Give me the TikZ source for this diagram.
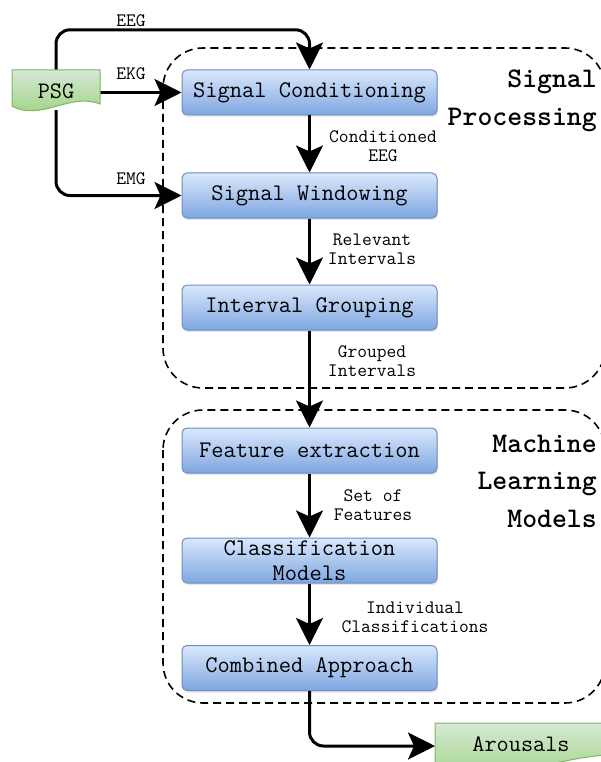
\documentclass[tikz,border=0pt]{standalone}
\usepackage{fontspec}
\usetikzlibrary{arrows.meta,shadows}

\definecolor{boxtop}{HTML}{DAE8FC}
\definecolor{boxbot}{HTML}{7EA6E0}
\definecolor{boxline}{HTML}{6C8EBF}
\definecolor{doctop}{HTML}{D5E8D4}
\definecolor{docbot}{HTML}{97D077}
\definecolor{docline}{HTML}{82B366}

\tikzset{
  proc/.style={rounded corners=5pt, top color=boxtop, bottom color=boxbot,
    draw=boxline, line width=1pt, minimum width=255pt, minimum height=45pt,
    inner sep=0pt, align=center,
    font=\ttfamily\fontsize{23.8}{25}\selectfont,
    drop shadow={opacity=0.2, shadow xshift=1pt, shadow yshift=-2pt}},
  docshape/.style={top color=doctop, bottom color=docbot, draw=docline, line width=1pt},
  doctext/.style={inner sep=0pt, font=\ttfamily\fontsize{23.6}{25}\selectfont},
  lbl/.style={inner sep=0pt, align=center, font=\ttfamily\fontsize{19}{19}\selectfont},
  grptitle/.style={inner sep=0pt, align=right, anchor=east,
    font=\ttfamily\bfseries\fontsize{28.4}{37.5}\selectfont},
  grp/.style={dash pattern=on 8pt off 5pt, line width=1.6pt, rounded corners=40pt},
  flow/.style={line width=3pt,
    -{Stealth[length=27pt, width=27pt, inset=6pt]}},
  elbow/.style={rounded corners=14pt},
}

\begin{document}
\begin{tikzpicture}[x=1pt, y=-1pt]
\useasboundingbox (0,0) rectangle (601,762);
\clip (0,0) rectangle (601,762);

% group frames
\draw[grp] (163,48) rectangle (605,388);
\draw[grp] (163,410) rectangle (605,703);

\node[grptitle] (tsp) at (597,101) {Signal\\Processing};
\node[grptitle] (tml) at (597,481) {Machine\\Learning\\Models};

% processing steps
\node[proc] (sc) at (309.5,92.5) {Signal Conditioning};
\node[proc] (sw) at (309.5,195.5) {Signal Windowing};
\node[proc] (ig) at (309.5,307.5) {Interval Grouping};
\node[proc] (fe) at (309.5,450.5) {Feature extraction};
\node[proc] (cm) at (309.5,560.5) {Classification\\Models};
\node[proc] (ca) at (309.5,668) {Combined Approach};

% input / output documents
\node[minimum width=88pt, minimum height=40pt, inner sep=0pt] (psg) at (56,90) {};
\node[minimum width=190pt, minimum height=40pt, inner sep=0pt, anchor=west] (ar) at (435,746) {};

% connectors
\draw[flow, elbow] (psg.north) -- ++(0,-40) -| (sc.north);
\draw[flow] (psg.east |- sc.west) -- (sc.west);
\draw[flow, elbow] (psg.south) |- (sw.west);
\draw[flow] (sc) -- (sw);
\draw[flow] (sw) -- (ig);
\draw[flow] (ig) -- (fe);
\draw[flow] (fe) -- (cm);
\draw[flow] (cm) -- (ca);
\draw[flow, elbow] (ca.south) |- (ar.west);

% document shapes drawn over the connector ends
\shade[docshape] (12,70) -- (100,70) -- (100,104)
  .. controls (70,92) and (40,122) .. (12,106) -- cycle;
\node[doctext] at (56,91) {PSG};
\shade[docshape] (435,723) -- (640,723) -- (640,758)
  .. controls (585,742) and (495,792) .. (435,772) -- cycle;
\node[doctext] at (521,744) {Arousals};

% connector labels
\node[lbl] (leeg) at (131,21) {EEG};
\node[lbl] (lekg) at (131,74) {EKG};
\node[lbl] (lemg) at (131,179) {EMG};
\node[lbl] (l1) at (383,146) {Conditioned\\EEG};
\node[lbl] (l2) at (372,249) {Relevant\\Intervals};
\node[lbl] (l3) at (372,361) {Grouped\\Intervals};
\node[lbl] (l4) at (373,505) {Set of\\Features};
\node[lbl] (l5) at (415,617) {Individual\\Classifications};
\end{tikzpicture}
\end{document}
